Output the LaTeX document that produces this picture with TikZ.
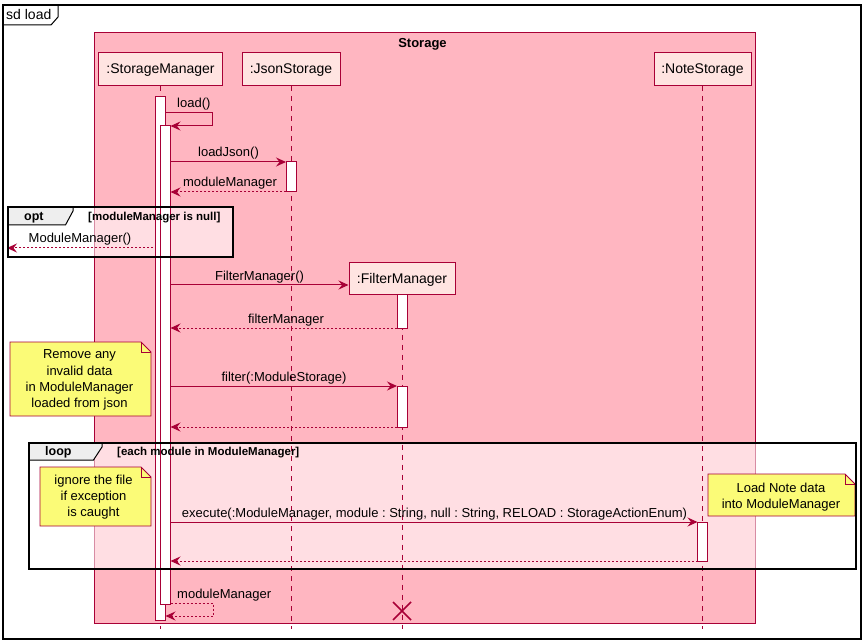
\documentclass[tikz,border=0pt]{standalone}
\usepackage{fontspec}
\setmainfont{Liberation Sans}
\usetikzlibrary{arrows.meta}
\definecolor{crim}{HTML}{A80036}
\definecolor{boxpink}{HTML}{FFB6C1}
\definecolor{partfill}{HTML}{FFE4E1}
\definecolor{notefill}{HTML}{FBFB77}
\definecolor{tabgray}{HTML}{EEEEEE}
\newcommand{\mynotebox}[4]{%
  \draw[notestyle] (#1,#2) -- ({#3-10},#2) -- (#3,{#2+10}) -- (#3,#4) -- (#1,#4) -- cycle;
  \draw[crim, line width=0.8pt] ({#3-10},#2) -- ({#3-10},{#2+10}) -- (#3,{#2+10});}
\begin{document}
\frenchspacing
\begin{tikzpicture}[x=1pt,y=-1pt,
  part/.style={draw=crim, fill=partfill, line width=1pt, font=\fontsize{14}{16}\selectfont, inner sep=0pt, minimum height=33pt, text depth=0.5pt},
  lifeline/.style={draw=crim, line width=1pt, dash pattern=on 5pt off 5pt},
  actbar/.style={draw=crim, fill=white, line width=1pt},
  msg/.style={draw=crim, line width=1pt, -{Stealth[length=10pt,width=9pt,inset=3.5pt]}},
  ret/.style={msg, dash pattern=on 2pt off 2pt},
  mlabel/.style={font=\fontsize{13}{15}\selectfont, anchor=base, inner sep=0pt},
  notestyle/.style={draw=crim, fill=notefill, line width=0.8pt},
  notetext/.style={font=\fontsize{13}{16.2}\selectfont, align=center, inner sep=0pt},
  grpframe/.style={draw=black, line width=1.6pt},
  grptab/.style={draw=black, fill=tabgray, line width=1pt},
  grplabel/.style={font=\bfseries\fontsize{12.5}{14}\selectfont, anchor=base west, inner sep=0pt},
  guard/.style={font=\bfseries\fontsize{11.5}{13}\selectfont, anchor=base west, inner sep=0pt}
]
\useasboundingbox (0,0) rectangle (867,644);
\fill[white] (0,0) rectangle (867,644);
% outer sd frame
\draw[black, line width=1.3pt] (3,5) rectangle (861,639);
\draw[black, line width=1pt] (3,25) -- (51,25) -- (58,17) -- (58,5);
\node[anchor=base west, font=\fontsize{14}{16}\selectfont, inner sep=0pt] (sdlabel) at (6,20) {sd load};
% Storage box
\draw[crim, fill=boxpink, line width=1pt] (94.5,33) rectangle (755,623);
\node[font=\bfseries\fontsize{13}{15}\selectfont, anchor=base, inner sep=0pt] (storagetitle) at (422.5,47.5) {Storage};
% group frame fills
\fill[white, fill opacity=0.55] (8,207) rectangle (233,257);
\fill[white, fill opacity=0.55] (29,443) rectangle (856,569);
% participants
\node[part, minimum width=124pt] (sm) at (160.5,69) {:StorageManager};
\node[part, minimum width=98pt] (js) at (291,69) {:JsonStorage};
\node[part, minimum width=97pt] (ns) at (702.5,69) {:NoteStorage};
\node[part, minimum width=106pt, minimum height=31pt] (fm) at (402,278.5) {:FilterManager};
% lifelines
\coordinate (smend) at (160.5,629);
\coordinate (jsend) at (291,629);
\coordinate (nsend) at (702.5,629);
\coordinate (fmend) at (402,629);
\draw[lifeline] (sm.south) -- (smend);
\draw[lifeline] (js.south) -- (jsend);
\draw[lifeline] (ns.south) -- (nsend);
\draw[lifeline] (fm.south) -- (fmend);
% activation bars
\draw[actbar] (155.5,97) rectangle (165.5,620);
\draw[actbar] (160.5,126) rectangle (170.5,604);
\draw[actbar] (286,162) rectangle (296,192);
\draw[actbar] (397,294) rectangle (407,328);
\draw[actbar] (397,386) rectangle (407,427);
\draw[actbar] (697.5,522) rectangle (707.5,561);
% message endpoints
\coordinate (m1a) at (165.5,113); \coordinate (m1b) at (212,113);
\coordinate (m1c) at (212,126); \coordinate (m1d) at (170.5,126);
\coordinate (m2a) at (170.5,162); \coordinate (m2b) at (286,162);
\coordinate (m3a) at (286,192); \coordinate (m3b) at (170.5,192);
\coordinate (m4a) at (153,248); \coordinate (m4b) at (7,248);
\coordinate (m5a) at (170.5,285);
\coordinate (m6a) at (397,328); \coordinate (m6b) at (170.5,328);
\coordinate (m7a) at (170.5,386); \coordinate (m7b) at (397,386);
\coordinate (m8a) at (397,427); \coordinate (m8b) at (170.5,427);
\coordinate (m9a) at (170.5,522); \coordinate (m9b) at (697.5,522);
\coordinate (m10a) at (697.5,561); \coordinate (m10b) at (170.5,561);
\coordinate (m11a) at (170.5,603); \coordinate (m11b) at (213,603);
\coordinate (m11c) at (213,616); \coordinate (m11d) at (165.5,616);
% messages
\draw[msg] (m1a) -- (m1b) -- (m1c) -- (m1d);
\node[mlabel, anchor=base west] (l1) at (177,108) {load()};
\draw[msg] (m2a) -- (m2b);
\node[mlabel] (l2) at (228.5,157) {loadJson()};
\draw[ret] (m3a) -- (m3b);
\node[mlabel] (l3) at (230,187) {moduleManager};
\draw[ret] (m4a) -- (m4b);
\node[mlabel] (l4) at (80,243) {ModuleManager()};
\draw[msg] (m5a) -- (fm.west |- m5a);
\node[mlabel] (l5) at (259.5,280) {FilterManager()};
\draw[ret] (m6a) -- (m6b);
\node[mlabel] (l6) at (286,323) {filterManager};
\draw[msg] (m7a) -- (m7b);
\node[mlabel] (l7) at (284,381) {filter(:ModuleStorage)};
\draw[ret] (m8a) -- (m8b);
\draw[msg] (m9a) -- (m9b);
\node[mlabel] (l9) at (434.5,517) {execute(:ModuleManager, module : String, null : String, RELOAD : StorageActionEnum)};
\draw[ret] (m10a) -- (m10b);
\draw[ret] (m11a) -- (m11b) -- (m11c) -- (m11d);
\node[mlabel, anchor=base west] (l11) at (177,598) {moduleManager};
% destroy
\draw[crim, line width=1.5pt] (393,602) -- (411,620) (393,620) -- (411,602);
% notes
\mynotebox{10}{342}{151}{416}
\node[notetext] (n1) at (79.5,380) {Remove any\\invalid data\\in ModuleManager\\loaded from json};
\mynotebox{40}{467}{151}{526}
\node[notetext] (n2) at (93.5,497) {ignore the file\\if exception\\is caught};
\mynotebox{708}{474}{855}{516}
\node[notetext] (n3) at (781,497) {Load Note data\\into ModuleManager};
% opt frame
\draw[grptab] (8,207) -- (73,207) -- (73,211) -- (65.5,225) -- (8,225) -- cycle;
\draw[grpframe] (8,207) rectangle (233,257);
\node[grplabel] (optl) at (24,221) {opt};
\node[guard] (optg) at (88,221) {[moduleManager is null]};
% loop frame
\draw[grptab] (29,443) -- (102,443) -- (102,447) -- (93.5,460) -- (29,460) -- cycle;
\draw[grpframe] (29,443) rectangle (856,569);
\node[grplabel] (loopl) at (45,455.5) {loop};
\node[guard] (loopg) at (117,455.5) {[each module in ModuleManager]};
\end{tikzpicture}
\end{document}
